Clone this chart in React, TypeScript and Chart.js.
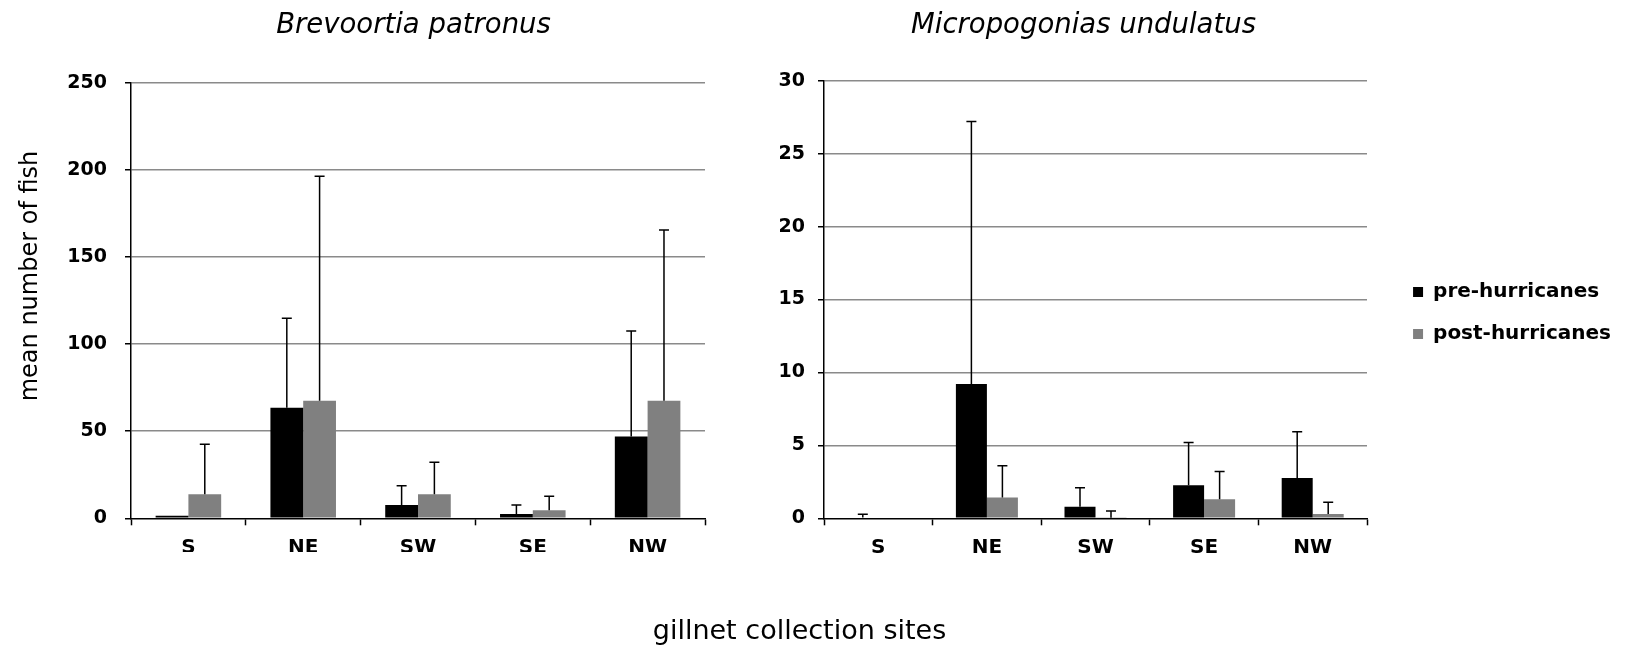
import React, { useEffect, useMemo, useRef } from 'react';
import { Chart, registerables } from 'chart.js';

Chart.register(...registerables);

// ---------------- data ----------------
const sites = ['S', 'NE', 'SW', 'SE', 'NW'];
const seriesLabels = ['pre-hurricanes', 'post-hurricanes'];

const brevoortiaTitle = 'Brevoortia patronus';
const brevoortiaPre = [1.5, 63.5, 7.7, 2.5, 46.9];
const brevoortiaPreErr = [0, 51.3, 11.0, 5.2, 60.6];
const brevoortiaPost = [13.8, 67.5, 13.8, 4.6, 67.5];
const brevoortiaPostErr = [28.7, 128.8, 18.3, 8.0, 98.0];
const brevoortiaTicks = [0, 50, 100, 150, 200, 250];

const micropogoniasTitle = 'Micropogonias undulatus';
const micropogoniasPre = [0.05, 9.2, 0.8, 2.26, 2.76];
const micropogoniasPreErr = [0.22, 18.0, 1.3, 2.94, 3.18];
const micropogoniasPost = [0, 1.42, 0.03, 1.3, 0.3];
const micropogoniasPostErr = [0, 2.18, 0.47, 1.9, 0.8];
const micropogoniasTicks = [0, 5, 10, 15, 20, 25, 30];

const yAxisTitle = 'mean number of fish';
const xAxisTitle = 'gillnet collection sites';

// ---------------- styles ----------------
const FAMILY = "'DejaVu Sans', sans-serif";
const PRE_COLOR = '#000000';
const POST_COLOR = '#808080';
const GRID_COLOR = '#8a8a8a';

const W1 = 827;
const H1 = 560;
const H2 = 626;
const TICK_FONT = 19;
const XLABEL_FONT = 20;
const SUB_FONT = 27.5;
const LEGEND_FONT = 20;
const LEGEND_PAD = 22;
const LEGEND_BOX = 10;
const LEGEND_LEFT = 1391;
const TITLE2_CENTER = 1083.5;

const errorBarPlugin = {
  id: 'errorBars',
  afterDatasetsDraw(chart: any) {
    const ctx = chart.ctx;
    const yScale = chart.scales.y;
    ctx.save();
    ctx.strokeStyle = '#000';
    ctx.lineWidth = 1.5;
    chart.data.datasets.forEach((ds: any, di: number) => {
      const meta = chart.getDatasetMeta(di);
      const errs = ds.errorBars || [];
      meta.data.forEach((bar: any, i: number) => {
        const e = errs[i];
        if (!e) return;
        const v = ds.data[i];
        const yTop = yScale.getPixelForValue(v + e);
        const yBase = yScale.getPixelForValue(v);
        const x = bar.x;
        ctx.beginPath();
        ctx.moveTo(x, yBase);
        ctx.lineTo(x, yTop);
        ctx.moveTo(x - 5, yTop);
        ctx.lineTo(x + 5, yTop);
        ctx.stroke();
      });
    });
    ctx.restore();
  },
};

function makeDatasets(pre: number[], preErr: number[], post: number[], postErr: number[]) {
  return [
    {
      label: seriesLabels[0],
      data: pre,
      errorBars: preErr,
      backgroundColor: PRE_COLOR,
      borderColor: PRE_COLOR,
      borderWidth: 0,
      xAxisID: 'x',
      yAxisID: 'y',
    },
    {
      label: seriesLabels[1],
      data: post,
      errorBars: postErr,
      backgroundColor: POST_COLOR,
      borderColor: POST_COLOR,
      borderWidth: 0,
      xAxisID: 'x',
      yAxisID: 'y',
    },
  ];
}

function xScale(height: number) {
  return {
    type: 'category',
    offset: true,
    grid: {
      display: true,
      drawOnChartArea: false,
      drawTicks: true,
      offset: true,
      tickLength: 7,
      tickColor: '#000',
      tickWidth: 1.5,
      color: '#000',
    },
    border: { display: true, color: '#000', width: 1.5 },
    ticks: {
      color: '#000',
      font: { family: FAMILY, size: XLABEL_FONT, weight: 'bold' },
      padding: 10,
      maxRotation: 0,
      autoSkip: false,
    },
    afterFit: (s: any) => {
      s.height = height;
    },
  };
}

function yScale(ticks: number[], width: number, padding: number) {
  return {
    type: 'linear',
    position: 'left',
    min: ticks[0],
    max: ticks[ticks.length - 1],
    ticks: {
      stepSize: ticks[1] - ticks[0],
      color: '#000',
      font: { family: FAMILY, size: TICK_FONT, weight: 'bold' },
      padding,
    },
    grid: {
      color: (c: any) => (c.tick && c.tick.value === 0 ? 'rgba(0,0,0,0)' : GRID_COLOR),
      lineWidth: 1.5,
      tickLength: 6,
      tickColor: '#000',
      tickWidth: 1.5,
    },
    border: { display: true, color: '#000', width: 1.5 },
    afterFit: (s: any) => {
      s.width = width;
    },
  };
}

function spacerScale(width: number) {
  return {
    type: 'linear',
    axis: 'y',
    position: 'right',
    display: true,
    ticks: { display: false },
    grid: { display: false },
    border: { display: false },
    afterFit: (s: any) => {
      s.width = width;
    },
  };
}

function computeLayout2() {
  const m = document.createElement('canvas').getContext('2d') as CanvasRenderingContext2D;
  m.font = `normal bold ${LEGEND_FONT}px ${FAMILY}`;
  const textW = Math.max(...seriesLabels.map((t) => m.measureText(t).width));
  const legendW = LEGEND_PAD + LEGEND_BOX + LEGEND_FONT / 2 + textW + 10;
  const right = Math.round(LEGEND_LEFT + legendW);
  const left = Math.round(2 * TITLE2_CENTER - right);
  return { left, width: right - left, legendW };
}

export default function App() {
  const c1 = useRef<HTMLCanvasElement>(null);
  const c2 = useRef<HTMLCanvasElement>(null);
  const lay2 = useMemo(() => computeLayout2(), []);

  useEffect(() => {
    Chart.defaults.color = '#000';
    Chart.defaults.font.family = FAMILY;

    // chart 1 geometry
    const area1Left = 131;
    const area1Right = 705;
    const area1Top = 82.7;
    const area1Bottom = 518.3;
    const titleFont1 = 24;
    const yTitlePadTop = 31 - (titleFont1 * 1.2) / 2;
    const yTitleWidth = titleFont1 * 1.2 + yTitlePadTop;
    const subPadTop = 26 - (SUB_FONT * 1.2) / 2;

    const chart1 = new Chart(c1.current as HTMLCanvasElement, {
      type: 'bar',
      data: {
        labels: sites,
        datasets: makeDatasets(brevoortiaPre, brevoortiaPreErr, brevoortiaPost, brevoortiaPostErr) as any,
      },
      options: {
        responsive: false,
        animation: false,
        devicePixelRatio: 1,
        layout: { padding: { left: 0, right: 0, top: 0, bottom: 8 } },
        datasets: { bar: { categoryPercentage: 0.571, barPercentage: 1 } },
        plugins: {
          legend: { display: false },
          tooltip: { enabled: false },
          title: {
            display: true,
            position: 'left',
            text: yAxisTitle,
            color: '#000',
            font: { family: FAMILY, size: titleFont1, weight: 'normal' },
            padding: { top: yTitlePadTop, bottom: 0 },
          },
          subtitle: {
            display: true,
            position: 'top',
            text: brevoortiaTitle,
            color: '#000',
            font: { family: FAMILY, size: SUB_FONT, style: 'italic', weight: 'normal' },
            padding: { top: subPadTop, bottom: area1Top - subPadTop - SUB_FONT * 1.2 },
          },
        },
        scales: {
          x: xScale(H1 - 8 - area1Bottom),
          y: yScale(brevoortiaTicks, area1Left - yTitleWidth, 18),
          spacer: spacerScale(W1 - area1Right),
        },
      } as any,
      plugins: [errorBarPlugin],
    });

    // chart 2 geometry
    const area2Left = 824;
    const area2Right = 1367;
    const area2Top = 80.7;
    const area2Bottom = 518.3;
    const spacer2 = Math.max(0, lay2.left + lay2.width - lay2.legendW - area2Right);

    const chart2 = new Chart(c2.current as HTMLCanvasElement, {
      type: 'bar',
      data: {
        labels: sites,
        datasets: makeDatasets(
          micropogoniasPre,
          micropogoniasPreErr,
          micropogoniasPost,
          micropogoniasPostErr
        ) as any,
      },
      options: {
        responsive: false,
        animation: false,
        devicePixelRatio: 1,
        layout: { padding: 0 },
        datasets: { bar: { categoryPercentage: 0.571, barPercentage: 1 } },
        plugins: {
          legend: {
            display: true,
            position: 'right',
            maxWidth: 400,
            labels: {
              boxWidth: LEGEND_BOX,
              boxHeight: LEGEND_BOX,
              padding: LEGEND_PAD,
              color: '#000',
              font: { family: FAMILY, size: LEGEND_FONT, weight: 'bold' },
            },
          },
          tooltip: { enabled: false },
          title: { display: false },
          subtitle: {
            display: true,
            position: 'top',
            text: micropogoniasTitle,
            color: '#000',
            font: { family: FAMILY, size: SUB_FONT, style: 'italic', weight: 'normal' },
            padding: { top: subPadTop, bottom: area2Top - subPadTop - SUB_FONT * 1.2 },
          },
        },
        scales: {
          x: xScale(H2 - area2Bottom),
          y: yScale(micropogoniasTicks, area2Left - lay2.left, 13),
          spacer: spacerScale(spacer2),
        },
      } as any,
      plugins: [errorBarPlugin],
    });

    return () => {
      chart1.destroy();
      chart2.destroy();
    };
  }, [lay2]);

  return (
    <div
      style={{
        position: 'fixed',
        left: 0,
        top: 0,
        width: 1625,
        height: 649,
        overflow: 'hidden',
        background: '#fff',
      }}
    >
      <canvas
        ref={c1}
        width={W1}
        height={H1}
        style={{ position: 'absolute', left: 0, top: 0, width: W1, height: H1, display: 'block' }}
      />
      <canvas
        ref={c2}
        width={lay2.width}
        height={H2}
        style={{
          position: 'absolute',
          left: lay2.left,
          top: 0,
          width: lay2.width,
          height: H2,
          display: 'block',
        }}
      />
      <div
        style={{
          position: 'absolute',
          left: 0,
          top: 616,
          width: 1599,
          textAlign: 'center',
          fontFamily: FAMILY,
          fontSize: 27,
          lineHeight: '27px',
          color: '#000',
          whiteSpace: 'nowrap',
        }}
      >
        {xAxisTitle}
      </div>
    </div>
  );
}
